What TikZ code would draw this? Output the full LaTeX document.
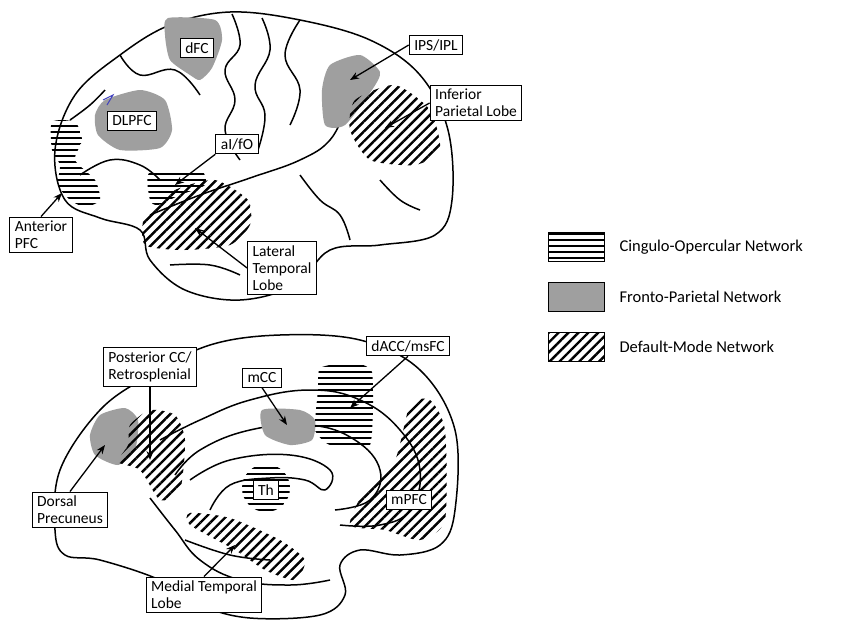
\documentclass[tikz,border=0pt]{standalone}
\usepackage{fontspec}
\setmainfont{Carlito}
\usetikzlibrary{patterns.meta,arrows.meta}
\begin{document}
\begin{tikzpicture}[x=1pt,y=-1pt,
  outl/.style={line width=1.5pt,line join=round},
  hz/.style={pattern={Lines[angle=0,distance=6pt,line width=2.6pt]}},
  dg/.style={pattern={Lines[angle=45,distance=7pt,line width=2.4pt]}},
  gr/.style={fill=gray!75},
  lab/.style={draw,line width=1.1pt,fill=white,font=\fontsize{15.5}{17}\selectfont,align=left,inner xsep=5pt,inner ysep=4pt},
  arr/.style={line width=1.3pt,-{Stealth[length=9pt,width=7pt]}},
  leg/.style={draw,line width=1pt,minimum width=56pt,minimum height=29pt,inner sep=0pt},
  legt/.style={anchor=west,font=\fontsize{16.5}{18}\selectfont}]
\useasboundingbox (0,0) rectangle (850,624);
% ---------- top brain
\draw[outl,fill=white] plot[smooth cycle,tension=0.6] coordinates {(55,150)(75,95)(120,55)(170,25)(230,12)(300,20)(370,40)(420,75)(448,130)(452,200)(435,235)(380,245)(330,250)(295,285)(240,300)(185,290)(150,260)(140,230)(100,218)(65,200)};
\draw[outl] plot[smooth,tension=0.7] coordinates {(150,215)(200,195)(250,178)(300,160)(330,140)(345,110)};
\draw[outl] plot[smooth,tension=0.7] coordinates {(232,14)(240,45)(225,70)(235,100)(225,130)(240,160)};
\draw[outl] plot[smooth,tension=0.7] coordinates {(262,18)(270,50)(255,85)(265,115)(258,150)};
\draw[outl] plot[smooth,tension=0.7] coordinates {(300,20)(285,55)(300,90)(290,125)};
\draw[outl] plot[smooth,tension=0.7] coordinates {(120,55)(140,75)(175,70)(200,95)};
\draw[outl] plot[smooth,tension=0.7] coordinates {(70,120)(90,105)(105,90)};
\draw[outl] plot[smooth,tension=0.7] coordinates {(80,175)(110,160)(140,165)(160,180)};
\draw[outl] plot[smooth,tension=0.7] coordinates {(300,175)(320,200)(340,215)(350,240)};
\draw[outl] plot[smooth,tension=0.7] coordinates {(380,180)(400,200)(420,210)};
\draw[outl] plot[smooth,tension=0.7] coordinates {(170,265)(210,265)(240,275)};
% regions top
\path[gr] plot[smooth cycle,tension=0.4] coordinates {(168,18)(215,20)(222,40)(212,68)(200,80)(190,75)(170,60)(165,35)};
\path[gr] plot[smooth cycle,tension=0.4] coordinates {(105,100)(140,90)(165,100)(172,130)(160,148)(120,150)(98,135)(95,115)};
\path[gr] plot[smooth cycle,tension=0.4] coordinates {(330,65)(360,55)(380,72)(372,90)(345,125)(325,125)(322,90)};
\path[dg] plot[smooth cycle,tension=0.4] coordinates {(355,100)(395,85)(430,110)(440,150)(415,165)(370,160)(350,130)};
\path[hz] plot[smooth cycle,tension=0.4] coordinates {(52,122)(75,122)(82,140)(75,160)(95,180)(100,200)(85,207)(70,200)(58,185)(60,165)(52,150)};
\path[hz] plot[smooth cycle,tension=0.4] coordinates {(150,172)(200,170)(205,185)(180,195)(158,205)(150,200)};
\path[dg] plot[smooth cycle,tension=0.4] coordinates {(145,215)(175,190)(215,180)(248,200)(250,225)(230,245)(185,250)(145,245)};
\draw[blue!50!gray,line width=1pt] (103,100) -- (113,95) -- (107,105);
% labels top
\node[lab] (dfc) at (197,48) {dFC};
\node[lab] (dlpfc) at (132,121) {DLPFC};
\node[lab] (ips) at (436,45) {IPS/IPL};
\node[lab] (ipl) at (476,103) {Inferior\\Parietal Lobe};
\node[lab] (aifo) at (237,144) {aI/fO};
\node[lab] (apfc) at (41,235) {Anterior\\PFC};
\node[lab] (ltl) at (282,268) {Lateral\\Temporal\\Lobe};
\coordinate (tips) at (350,80);
\coordinate (tipl) at (385,128);
\coordinate (taifo) at (175,185);
\coordinate (tapfc) at (62,193);
\coordinate (tltl) at (195,228);
\draw[arr] (ips.west) -- (tips);
\draw[arr] (ipl.west) -- (tipl);
\draw[arr] (aifo.south west) -- (taifo);
\draw[arr] (apfc.north) -- (tapfc);
\draw[arr] (ltl.west) -- (tltl);
% ---------- bottom brain
\draw[outl,fill=white] plot[smooth cycle,tension=0.6] coordinates {(55,530)(60,470)(100,410)(150,375)(210,345)(280,335)(360,340)(420,370)(455,430)(455,510)(440,545)(400,555)(360,550)(340,565)(345,595)(320,615)(250,618)(200,605)(160,580)(100,560)(65,555)};
\draw[outl] plot[smooth,tension=0.7] coordinates {(160,440)(200,420)(250,400)(310,390)(360,400)(400,430)(420,470)(410,510)(380,525)(340,525)};
\draw[outl] plot[smooth,tension=0.7] coordinates {(175,475)(200,450)(250,430)(310,425)(355,440)(380,470)(370,500)(335,510)};
\draw[outl] plot[smooth,tension=0.7] coordinates {(190,480)(230,460)(290,455)(330,470)(325,490)(305,480)(270,478)(230,485)(210,510)};
\draw[outl] plot[smooth,tension=0.7] coordinates {(150,498)(175,530)(200,560)(240,580)(290,585)(330,580)};
\draw[outl] plot[smooth,tension=0.7] coordinates {(185,540)(230,555)(270,560)};
% regions bottom
\path[gr] plot[smooth cycle,tension=0.4] coordinates {(100,415)(125,408)(138,420)(135,450)(118,465)(95,455)(90,435)};
\path[dg] plot[smooth cycle,tension=0.4] coordinates {(130,425)(150,410)(175,415)(185,440)(180,490)(160,500)(140,470)(118,462)(128,445)};
\path[gr] plot[smooth cycle,tension=0.4] coordinates {(262,410)(300,410)(315,420)(312,440)(290,445)(265,435)};
\path[hz] plot[smooth cycle,tension=0.3] coordinates {(320,368)(350,362)(372,372)(370,445)(330,445)(315,430)(318,390)};
\path[dg] plot[smooth cycle,tension=0.4] coordinates {(410,405)(430,400)(445,430)(445,520)(420,540)(385,530)(350,525)(365,490)(395,460)};
\path[dg] plot[smooth cycle,tension=0.4] coordinates {(190,513)(230,518)(280,540)(305,560)(295,580)(265,570)(235,550)(190,525)};
\path[hz] (266,488) circle (24);
% labels bottom
\node[lab] (pcc) at (150,367) {Posterior CC/\\Retrosplenial};
\node[lab] (mcc) at (262,378) {mCC};
\node[lab] (dacc) at (408,346) {dACC/msFC};
\node[lab] (th) at (266,490) {Th};
\node[lab] (dp) at (70,510) {Dorsal\\Precuneus};
\node[lab] (mpfc) at (409,500) {mPFC};
\node[lab] (mtl) at (204,595) {Medial Temporal\\Lobe};
\coordinate (tpcc) at (150,460);
\coordinate (tdp) at (105,445);
\coordinate (tmcc) at (287,425);
\coordinate (tdacc) at (350,408);
\coordinate (tmtl) at (235,545);
\draw[arr] (pcc.south) -- (tpcc);
\draw[arr] (dp.north) -- (tdp);
\draw[arr] (mcc.south) -- (tmcc);
\draw[arr] (dacc.south) -- (tdacc);
\draw[arr] (mtl.north) -- (tmtl);
% ---------- legend
\node[leg,hz] (l1) at (576,247) {};
\node[leg,gr] (l2) at (576,297) {};
\node[leg,dg] (l3) at (576,347) {};
\node[legt] (t1) at (616,247) {Cingulo-Opercular Network};
\node[legt] (t2) at (616,297) {Fronto-Parietal Network};
\node[legt] (t3) at (616,347) {Default-Mode Network};
\end{tikzpicture}
\end{document}
